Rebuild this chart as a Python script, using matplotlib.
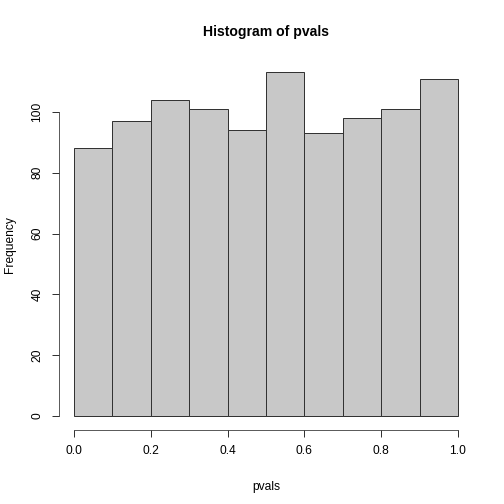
import matplotlib
matplotlib.use("Agg")
import matplotlib.pyplot as plt
import numpy as np

plt.rcParams['font.family'] = ['Liberation Sans', 'DejaVu Sans']

bin_edges = [0.0, 0.1, 0.2, 0.3, 0.4, 0.5, 0.6, 0.7, 0.8, 0.9, 1.0]
counts = [88, 97, 104, 101, 94, 113, 93, 98, 101, 111]
x_ticks = [0.0, 0.2, 0.4, 0.6, 0.8, 1.0]
x_tick_labels = ["0.0", "0.2", "0.4", "0.6", "0.8", "1.0"]
y_ticks = [0, 20, 40, 60, 80, 100]

fig = plt.figure(figsize=(7, 7), dpi=72)
ax = fig.add_axes([58.6/504, 1-429.7/504, (473.4-58.6)/504, (429.7-58.7)/504])

lefts = np.array(bin_edges[:-1])
widths = np.diff(bin_edges)
ax.bar(lefts, counts, width=widths, align='edge', color='#C8C8C8',
       edgecolor='#333333', linewidth=1.0)

ymax = max(counts)
ax.set_xlim(-0.04, 1.04)
ax.set_ylim(-0.04*ymax, ymax*1.04)

for s in ['top', 'right']:
    ax.spines[s].set_visible(False)
ax.spines['left'].set_bounds(0, 100)
ax.spines['bottom'].set_bounds(0, 1)
ax.spines['left'].set_color('#333333')
ax.spines['bottom'].set_color('#333333')

ax.set_xticks(x_ticks)
ax.set_xticklabels(x_tick_labels)
ax.set_yticks(y_ticks)
ax.set_yticklabels([str(v) for v in y_ticks], rotation=90, va='center')
ax.tick_params(axis='both', length=7, width=1, color='#333333', labelsize=12, pad=8)

ax.set_xlabel('pvals', fontsize=12, labelpad=24)
ax.set_ylabel('Frequency', fontsize=12, labelpad=16)
ax.set_title('Histogram of pvals', fontsize=14, fontweight='bold', pad=23)

fig.savefig('out.png', dpi=72)
